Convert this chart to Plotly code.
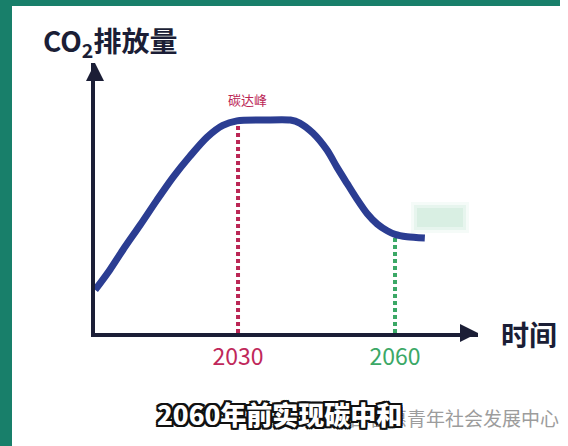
import plotly.graph_objects as go

# ---- data ----
years = [2002.7, 2005.5, 2008.0, 2011.3, 2014.5, 2017.6, 2020.8, 2024.1, 2027.1, 2029.8,
         2035.0, 2040.0, 2041.8, 2044.3, 2047.0, 2048.9, 2050.8, 2052.7, 2054.7, 2056.6,
         2058.5, 2060.0, 2062.3, 2065.7]
emissions = [20.2, 29.6, 39.0, 50.7, 62.4, 73.2, 83.0, 92.0, 97.5, 99.6,
             100.0, 100.0, 98.6, 93.9, 85.9, 77.9, 70.4, 63.0, 56.0, 51.2,
             48.0, 46.3, 45.2, 44.6]
peak_year = 2030
peak_level = 98.5
neutral_year = 2060
neutral_level = 46.0
tick_years = [2030, 2060]
tick_labels = ["2030", "2060"]
tick_colors = ["#c0285a", "#3ba866"]
x_range = [2002.67, 2075.86]
y_range = [0, 126.8]

# ---- layout geometry ----
W, H = 568, 446
L, R, T, B = 95, 90, 63, 113
PW, PH = W - L - R, H - T - B


def pxx(x):
    return (x - L) / PW


def pxy(y):
    return (H - B - y) / PH


CURVE = "#2b3d92"
AXIS = "#1b1e36"
RED = "#bb2655"
GREEN = "#3ba866"
TEAL = "#187f6a"
CJK = "Noto Sans CJK SC"

fig = go.Figure()

# dashed guides
fig.add_trace(go.Scatter(x=[peak_year, peak_year], y=[0, peak_level], mode="lines",
                         line=dict(color=RED, width=4, dash="4px,3px"), hoverinfo="skip"))
fig.add_trace(go.Scatter(x=[neutral_year, neutral_year], y=[0, neutral_level], mode="lines",
                         line=dict(color=GREEN, width=4, dash="4px,3px"), hoverinfo="skip"))
# emission curve
fig.add_trace(go.Scatter(x=years, y=emissions, mode="lines",
                         line=dict(color=CURVE, width=7, shape="spline", smoothing=0.8),
                         hoverinfo="skip"))

shapes = []
# green frame
shapes.append(dict(type="rect", xref="paper", yref="paper", x0=pxx(0), x1=pxx(12),
                   y0=pxy(446), y1=pxy(0), fillcolor=TEAL, line=dict(width=0), layer="above"))
shapes.append(dict(type="rect", xref="paper", yref="paper", x0=pxx(0), x1=pxx(560),
                   y0=pxy(6), y1=pxy(0), fillcolor=TEAL, line=dict(width=0), layer="above"))
# blurred green label
for i, op in enumerate([0.15, 0.25, 0.35]):
    d = 6 - 3 * i
    shapes.append(dict(type="rect", xref="paper", yref="paper",
                       x0=pxx(417 - d), x1=pxx(463 + d), y0=pxy(227 + d), y1=pxy(208 - d),
                       fillcolor="#bfe5cf", opacity=op, line=dict(width=0), layer="below"))
# wechat icon hint
shapes.append(dict(type="circle", xref="paper", yref="paper", x0=pxx(309), x1=pxx(327),
                   y0=pxy(426), y1=pxy(408), line=dict(color="#b0b0b0", width=1.5)))

annotations = []
# axis arrowheads
annotations.append(dict(x=x_range[1], y=0, xref="x", yref="y", ax=-16, ay=0, text="",
                        showarrow=True, arrowhead=2, arrowsize=0.9, arrowwidth=4,
                        arrowcolor=AXIS))
annotations.append(dict(x=x_range[0], y=y_range[1], xref="x", yref="y", ax=0, ay=16, text="",
                        showarrow=True, arrowhead=2, arrowsize=0.9, arrowwidth=4,
                        arrowcolor=AXIS))
# titles
annotations.append(dict(x=pxx(41), y=pxy(42), xref="paper", yref="paper", xanchor="left",
                        yanchor="middle", showarrow=False,
                        text="CO<sub>2</sub>排放量",
                        font=dict(family=CJK, size=28, color=AXIS, weight=600)))
annotations.append(dict(x=pxx(499), y=pxy(334), xref="paper", yref="paper", xanchor="left",
                        yanchor="middle", showarrow=False, text="时间",
                        font=dict(family=CJK, size=28, color=AXIS, weight=600)))
annotations.append(dict(x=peak_year + 1.8, y=peak_level + 11, xref="x", yref="y",
                        showarrow=False, text="碳达峰",
                        font=dict(family=CJK, size=13, color=RED)))
# watermark + caption
annotations.append(dict(x=pxx(329), y=pxy(417), xref="paper", yref="paper", xanchor="left",
                        yanchor="middle", showarrow=False, text="陕西普惠青年社会发展中心",
                        font=dict(family=CJK, size=19, color="#9c9c9c")))
annotations.append(dict(x=pxx(279), y=pxy(413), xref="paper", yref="paper", xanchor="center",
                        yanchor="middle", showarrow=False, text="2060年前实现碳中和",
                        font=dict(family=CJK, size=26, color="#ffffff", weight=900,
                                  shadow="-2px -2px 0 #111, 2px -2px 0 #111, -2px 2px 0 #111, "
                                         "2px 2px 0 #111, 0 2px 0 #111, 2px 0 0 #111, "
                                         "0 -2px 0 #111, -2px 0 0 #111")))

ticktext = [f"<span style='color:{c}'>{t}</span>" for t, c in zip(tick_labels, tick_colors)]

fig.update_layout(
    width=W, height=H,
    margin=dict(l=L, r=R, t=T, b=B, pad=0),
    paper_bgcolor="#ffffff", plot_bgcolor="#ffffff",
    showlegend=False,
    shapes=shapes, annotations=annotations,
    xaxis=dict(range=x_range, showgrid=False, zeroline=False, showline=True,
               linecolor=AXIS, linewidth=4, tickvals=tick_years, ticktext=ticktext,
               ticks="", tickfont=dict(family=CJK, size=23), ticklabelstandoff=0,
               fixedrange=True),
    yaxis=dict(range=y_range, showgrid=False, zeroline=False, showline=True,
               linecolor=AXIS, linewidth=4, showticklabels=False, ticks="",
               fixedrange=True),
)

fig.write_html("out.html", config={"displayModeBar": False},
               post_script="document.body.style.margin='0';document.body.style.overflow='hidden';")
